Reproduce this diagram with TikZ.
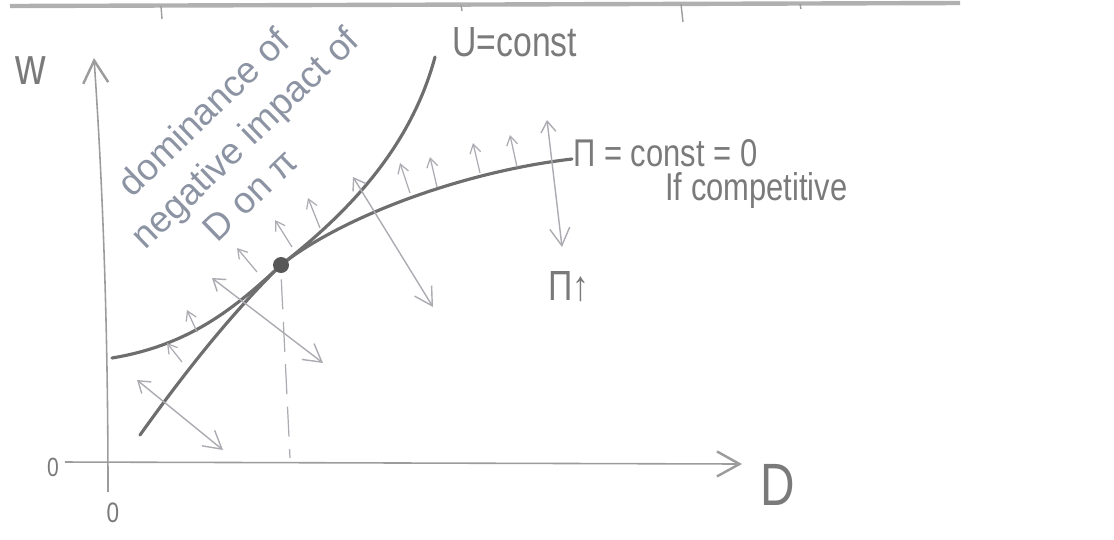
\documentclass[tikz,border=0pt]{standalone}
\usepackage{fontspec}
\setmainfont{Liberation Sans}[FakeStretch=0.8]
\newfontfamily\notefont{Liberation Sans}
\usetikzlibrary{arrows.meta, calc}
\definecolor{skPencil}{HTML}{6E6E6E}
\definecolor{skText}{HTML}{7A7A7A}
\definecolor{skAxis}{HTML}{9C9C9C}
\definecolor{skFaint}{HTML}{ABABB2}
\definecolor{skBlue}{HTML}{8C93A3}
\definecolor{skDot}{HTML}{575757}
\tikzset{
    skAxisLine/.style={
        draw=skAxis,
        line width=0.9pt,
        -{Straight Barb[length=0.45cm, width=0.5cm, line width=1.4pt]}
    },
    skCurve/.style={draw=skPencil, line width=1.8pt, line cap=round},
    skTick/.style={draw=skFaint, line width=0.7pt, -{Straight Barb[length=0.18cm, width=0.22cm]}},
    skSwing/.style={
        draw=skFaint,
        line width=0.8pt,
        {Straight Barb[length=0.22cm, width=0.3cm]}-{Straight Barb[length=0.35cm, width=0.4cm]}
    },
    skGuide/.style={draw=skFaint, line width=0.7pt, dash pattern=on 0.6cm off 0.25cm},
    skDotMark/.style={circle, fill=skDot, minimum size=0.32cm, inner sep=0pt},
    skLabel/.style={text=skText, inner sep=0pt},
    skNoteText/.style={text=skBlue, inner sep=0pt, rotate=44, font=\notefont\fontsize{21}{23}\selectfont}
}

\begin{document}
\begin{tikzpicture}[x=0.02cm, y=-0.02cm, font=\fontsize{22}{26}\selectfont]
    \useasboundingbox (0,0) rectangle (1114,539);
    % edge of the scanned page
    \draw[draw=skAxis!80, line width=2.5pt] (10,6) -- (960,3);
    \draw[draw=skAxis, line width=0.8pt] (161,6) -- (162,19) (461,5) -- (462,11) (681,4) -- (683,22) (800,4) -- (801,9);
    % axes
    \coordinate (ybot) at (108,492);
    \coordinate (ytop) at (94,58);
    \coordinate (xbeg) at (65,462);
    \coordinate (xend) at (742,464);
    \draw[skAxisLine] (ybot) .. controls (108,300) and (101,160) .. (ytop);
    \draw[skAxisLine] (xbeg) -- (xend);
    % the two curves meet at eq
    \coordinate (eq) at (281,265);
    \coordinate (pi0) at (112,358);
    \coordinate (pi1) at (572,159);
    \coordinate (u0) at (140,435);
    \coordinate (u1) at (435,57);
    \draw[skCurve] (pi0) .. controls (190,345) and (235,308) .. (eq) .. controls (340,218) and (460,172) .. (pi1);
    \draw[skCurve] (u0) .. controls (190,365) and (235,310) .. (eq) .. controls (345,215) and (410,150) .. (u1);
    \node[skDotMark] (eqdot) at (eq) {};
    % small arrows on the profit curve
    \foreach \tx/\ty/\hx/\hy in {182/362/167/343, 197/332/187/310, 257/272/237/248, 292/247/275/220, 320/228/308/198,
                                  410/193/400/163, 437/187/430/157, 480/173/473/143, 517/167/510/135}
        \draw[skTick] (\tx,\ty) -- (\hx,\hy);
    % long arrows
    \coordinate (s1a) at (137,380);
    \coordinate (s1b) at (223,450);
    \coordinate (s2a) at (212,278);
    \coordinate (s2b) at (323,363);
    \coordinate (s3a) at (353,177);
    \coordinate (s3b) at (433,307);
    \coordinate (s4a) at (547,120);
    \coordinate (s4b) at (562,247);
    \draw[skSwing] (s1a) -- (s1b);
    \draw[skSwing] (s2a) -- (s2b);
    \draw[skSwing] (s3a) -- (s3b);
    \draw[skSwing] (s4a) -- (s4b);
    % guide down to the D axis
    \coordinate (eqfoot) at (290,458);
    \draw[skGuide, shorten <=0.12cm] (eqdot.south) -- (eqfoot);
    % labels
    \node[skLabel, font=\fontsize{30}{32}\selectfont] (wlab) at (31,71) {w};
    \node[skLabel, font=\fontsize{34}{36}\selectfont] (dlab) at (778,485) {D};
    \node[skLabel, font=\fontsize{15}{17}\selectfont] (zeroW) at (53,467) {0};
    \node[skLabel, font=\fontsize{16}{18}\selectfont] (zeroD) at (113,513) {0};
    \node[skLabel, font=\fontsize{24}{28}\selectfont, anchor=west] (ulab) at (452,42) {U=const};
    \node[skLabel, anchor=west] (pilab) at (573,153) {Π = const = 0};
    \node[skLabel, font=\fontsize{22}{26}\selectfont, anchor=west] (complab) at (665,190) {If competitive};
    \node[skLabel, font=\fontsize{24}{28}\selectfont] (uplab) at (569,287) {Π↑};
    % note on the steep side
    \node[skNoteText] (note1) at (203,112) {dominance of};
    \node[skNoteText] (note2) at (247,140) {negative impact of};
    \node[skNoteText] (note3) at (250,195) {D on π};
\end{tikzpicture}
\end{document}
